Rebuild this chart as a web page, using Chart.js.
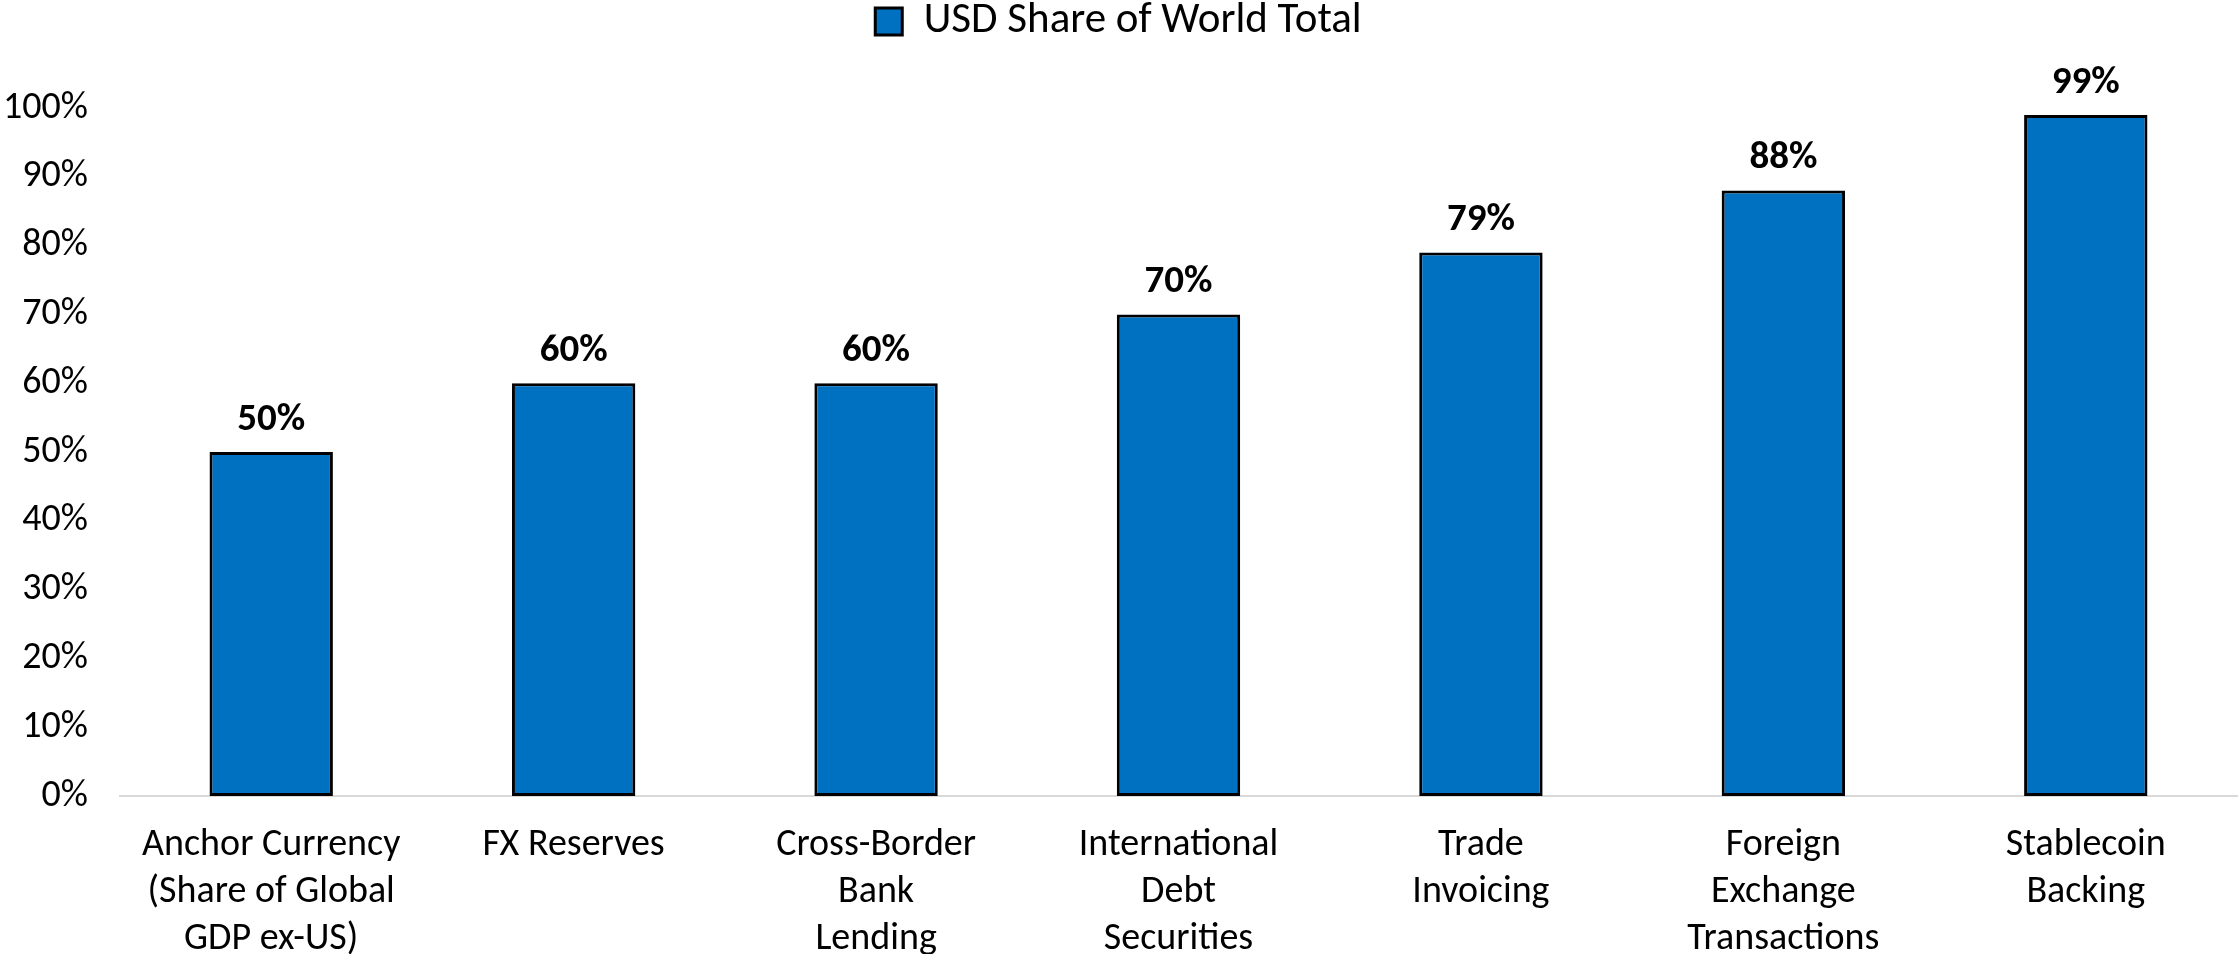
<!DOCTYPE html>
<html>
<head>
<meta charset="utf-8">
<script src="https://cdn.jsdelivr.net/npm/chart.js@4.4.0/dist/chart.umd.min.js"></script>
<style>
  body { margin: 0; background: #fff; }
  #wrap { width: 2239px; height: 954px; }
</style>
</head>
<body>
<div id="wrap"><canvas id="usdChart" width="2239" height="954"></canvas></div>
<script>
// categories and values
const categories = [
  ["Anchor Currency", "(Share of Global", "GDP ex-US)"],
  ["FX Reserves"],
  ["Cross-Border", "Bank", "Lending"],
  ["International", "Debt", "Securities"],
  ["Trade", "Invoicing"],
  ["Foreign", "Exchange", "Transactions"],
  ["Stablecoin", "Backing"],
];
const usdShare = [50, 60, 60, 70, 79, 88, 99];
const seriesName = "USD Share of World Total";

const FONT = 'Carlito, Calibri, "Liberation Sans", sans-serif';

// value labels above each bar
const barLabels = {
  id: "barLabels",
  afterDatasetsDraw(chart) {
    const { ctx } = chart;
    const meta = chart.getDatasetMeta(0);
    ctx.save();
    ctx.font = "bold 39px " + FONT;
    ctx.fillStyle = "#000";
    ctx.textAlign = "center";
    ctx.textBaseline = "middle";
    meta.data.forEach((bar, i) => {
      ctx.fillText(usdShare[i] + "%", bar.x, bar.y - 32);
    });
    ctx.restore();
  },
};

// make room under the legend so the plot starts lower
const legendSpace = {
  id: "legendSpace",
  beforeInit(chart) {
    const fit = chart.legend.fit;
    chart.legend.fit = function () {
      fit.bind(chart.legend)();
      this.height = 108;
    };
  },
};

new Chart(document.getElementById("usdChart"), {
  type: "bar",
  data: {
    labels: categories,
    datasets: [
      {
        label: seriesName,
        data: usdShare,
        backgroundColor: "#0070C0",
        borderColor: "#000",
        borderWidth: 3,
        borderSkipped: false,
        categoryPercentage: 1,
        barPercentage: 0.408,
      },
    ],
  },
  options: {
    responsive: false,
    animation: false,
    layout: { padding: { left: 0, right: 2, top: 0, bottom: 0 } },
    plugins: {
      tooltip: { enabled: false },
      legend: {
        position: "top",
        labels: {
          boxWidth: 27,
          boxHeight: 27,
          padding: 0,
          color: "#000",
          font: { family: FONT, size: 43 },
        },
      },
    },
    scales: {
      x: {
        grid: { display: false, drawTicks: false },
        border: { display: true, color: "#d9d9d9", width: 2 },
        ticks: {
          color: "#000",
          padding: 26,
          maxRotation: 0,
          autoSkip: false,
          font: { family: FONT, size: 38, lineHeight: 1.24 },
        },
        afterFit: (scale) => { scale.height = 158; },
      },
      y: {
        min: 0,
        max: 100,
        grid: { display: false, drawTicks: false },
        border: { display: false },
        ticks: {
          stepSize: 10,
          color: "#000",
          padding: 32,
          font: { family: FONT, size: 38 },
          callback: (v) => v + "%",
        },
        afterFit: (scale) => { scale.width = 120; },
      },
    },
  },
  plugins: [barLabels, legendSpace],
});
</script>
</body>
</html>
